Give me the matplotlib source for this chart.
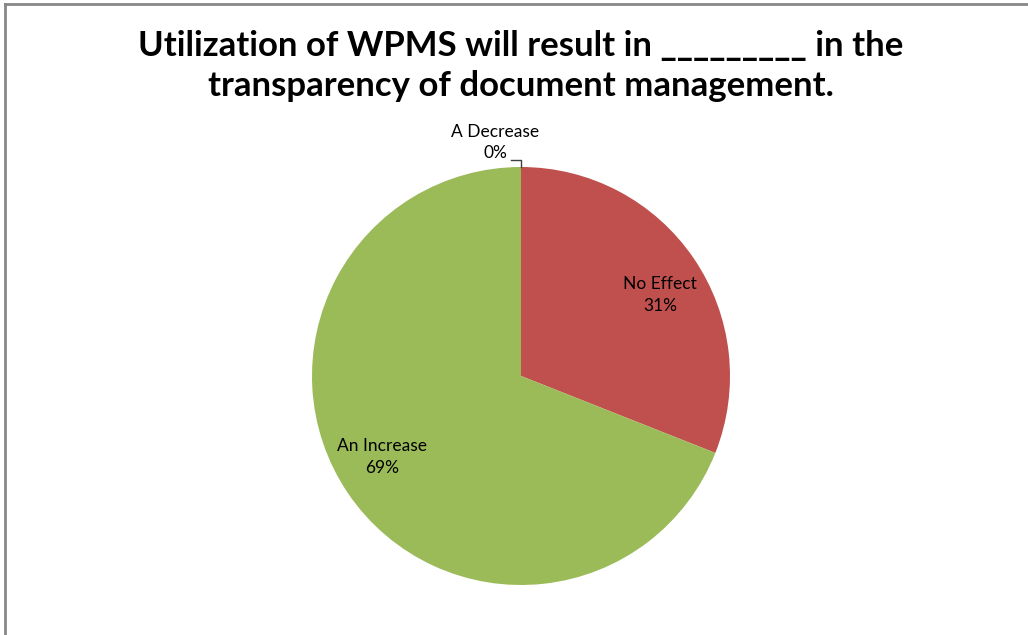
import matplotlib
matplotlib.use("Agg")
import matplotlib.pyplot as plt
import numpy as np
from matplotlib.lines import Line2D

plt.rcParams['font.family'] = ['Lato', 'DejaVu Sans']

categories = ["A Decrease", "No Effect", "An Increase"]
values = [0, 31, 69]
colors = ["#4F81BD", "#C0504D", "#9BBB59"]
title = "Utilization of WPMS will result in _________ in the\ntransparency of document management."

fig = plt.figure(figsize=(10.28, 6.35), dpi=100)
W, H = 1028, 635

# pie axes: centre (521, 376) px, radius 209 px
cx, cy, r = 521, 376, 209
ax = fig.add_axes([(cx - r) / W, (H - cy - r) / H, 2 * r / W, 2 * r / H])
wedges, _ = ax.pie(values, colors=colors, startangle=90, counterclock=False,
                   radius=1.0, wedgeprops=dict(linewidth=0))
ax.set_xlim(-1, 1)
ax.set_ylim(-1, 1)
ax.set_aspect('equal')
ax.axis('off')

total = sum(values)
for w, name, v in zip(wedges, categories, values):
    mid = np.deg2rad((w.theta1 + w.theta2) / 2)
    txt = f"{name}\n{round(100 * v / total)}%"
    if v == 0:
        # outside label with leader line
        px, py = np.cos(mid), np.sin(mid)
        ax.plot([px, px, px - 0.05], [py, py + 0.035, py + 0.035],
                color="#404040", lw=1, clip_on=False)
        ax.text(px - 0.124, py + 0.117, txt, ha='center', va='center',
                fontsize=12.5, linespacing=1.45, clip_on=False)
    else:
        a = mid - np.deg2rad(4)
        d = 0.77
        ax.text(d * np.cos(a), d * np.sin(a), txt, ha='center', va='center',
                fontsize=12.5, linespacing=1.45)

fig.text(521 / W, 1 - 66 / H, title, ha='center', va='center',
         fontsize=25, fontweight='bold', linespacing=1.3)

# grey frame on top and left edges
fig.add_artist(Line2D([5 / W, 5 / W], [0, 1 - 4 / H], color="#888888", lw=2,
                      transform=fig.transFigure))
fig.add_artist(Line2D([5 / W, 1], [1 - 4 / H, 1 - 4 / H], color="#888888", lw=2,
                      transform=fig.transFigure))

fig.savefig("out.png", dpi=100)
